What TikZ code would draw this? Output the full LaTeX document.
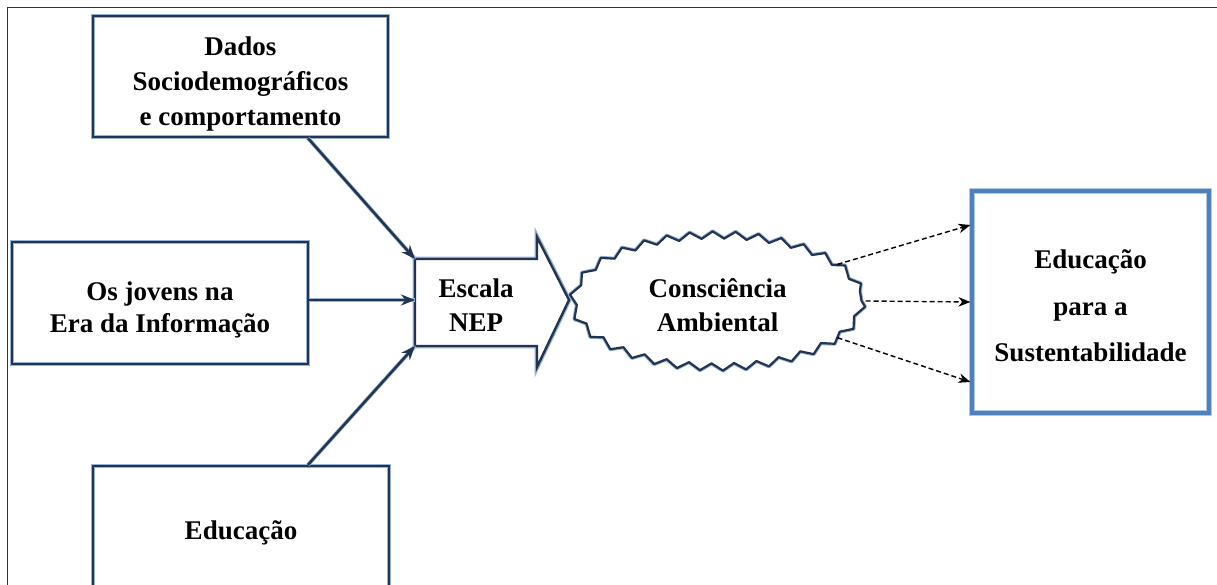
\documentclass[tikz,border=0pt]{standalone}
\usepackage{fontspec}
\setmainfont{Liberation Serif}
\usetikzlibrary{arrows.meta,shapes.geometric,decorations.pathmorphing}
\definecolor{navy}{RGB}{35,52,82}
\definecolor{glow}{RGB}{150,180,215}
\definecolor{boxblue}{RGB}{79,129,189}
\definecolor{boxglow}{RGB}{175,200,232}
\begin{document}
\begin{tikzpicture}[x=1pt,y=-1pt,
  txt/.style={align=center, inner sep=0pt, font={\fontsize{27}{34}\selectfont\bfseries}},
  lbox/.style={rectangle, inner sep=0pt, draw=navy, line width=2.4pt, preaction={draw=glow, line width=4.8pt}},
  rbox/.style={rectangle, inner sep=0pt, draw=boxblue, line width=3.2pt, preaction={draw=boxglow, line width=5.6pt}},
  sarrow/.style={draw=navy, line width=2.5pt, preaction={draw=glow, line width=4pt, -},
    -{Stealth[length=14pt,width=11pt]}},
  darrow/.style={draw=black, line width=1.4pt, dash pattern=on 5pt off 3pt,
    -{Stealth[length=12pt,width=9.5pt]}},
  zz/.style={decorate, line join=round, decoration={zigzag, segment length=22.8pt, amplitude=3.6pt}}
]
\useasboundingbox (0,0) rectangle (1217,585);
\clip (0,0) rectangle (1217,585);
\fill[white] (0,0) rectangle (1217,585);
\draw[line width=1pt, black!80] (7.5,590) -- (7.5,8) -- (1220,8);

% boxes
\node[lbox, minimum width=295, minimum height=121] (top) at (240.5,76.5) {};
\node[txt, font={\fontsize{27}{35}\selectfont\bfseries}] (toptxt) at (240.5,84)
  {Dados\\Sociodemográficos\\e comportamento};
\node[lbox, minimum width=296, minimum height=122] (mid) at (160,303) {};
\node[txt, font={\fontsize{27}{32}\selectfont\bfseries}] (midtxt) at (160,309.5)
  {Os jovens na\\Era da Informação};
\node[lbox, minimum width=296, minimum height=134] (bot) at (241,533) {};
\node[txt] (bottxt) at (241,533) {Educação};
\node[rbox, minimum width=237, minimum height=222] (rb) at (1090.5,302) {};
\node[txt, font={\fontsize{27}{46.5}\selectfont\bfseries}] (rbtxt) at (1090.5,306)
  {Educação\\para a\\Sustentabilidade};

% Escala NEP block arrow
\coordinate (nepTL) at (415,259);
\coordinate (nepL) at (415,300);
\coordinate (nepBL) at (415,346);
\draw[draw=navy, line width=2.4pt, line join=miter, preaction={draw=glow, line width=4.8pt}, fill=white]
  (415,259) -- (537,259) -- (537,237) -- (569,300) -- (537,367) -- (537,346) -- (415,346) -- cycle;
\node[txt] (nep) at (476,305) {Escala\\NEP};

% Consciencia Ambiental starburst
\draw[zz, draw=glow, line width=4pt] (717.5,301) ellipse [x radius=144, y radius=66];
\draw[zz, draw=navy, line width=2.2pt, fill=white] (717.5,301) ellipse [x radius=144, y radius=66];
\node[ellipse, inner sep=0pt, minimum width=288, minimum height=132] (ca) at (717.5,301) {};
\node[txt] (catxt) at (717.5,305) {Consciência\\Ambiental};

% solid arrows
\draw[sarrow] ([xshift=67.5pt]top.south) -- (nepTL);
\draw[sarrow] (mid.east |- nepL) -- (nepL);
\draw[sarrow] ([xshift=67pt]bot.north) -- (nepBL);

% dashed arrows
\draw[darrow] (ca.17) -- ([yshift=77pt]rb.west);
\draw[darrow] ([xshift=4pt]ca.east) -- (rb.west);
\draw[darrow] (ca.-17) -- ([yshift=-80pt]rb.west);
\end{tikzpicture}
\end{document}
